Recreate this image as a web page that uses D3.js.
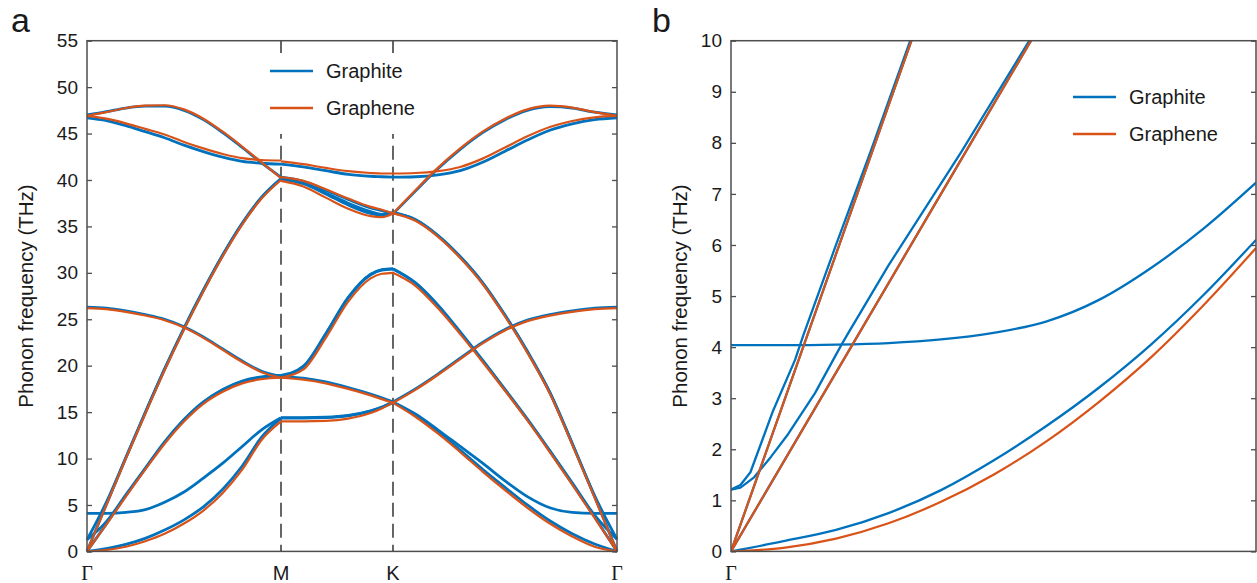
<!DOCTYPE html>
<html><head><meta charset="utf-8">
<script src="https://cdn.jsdelivr.net/npm/d3@7"></script>
<style>body{margin:0;background:#fff}svg{display:block}</style>
</head><body>
<svg id="c" width="1257" height="583"></svg>
<script>
// ---------- Panel a: k-path (Γ-M | M-K | K-Γ), relative path length ----------
const kTickLabels = ["Γ","M","K","Γ"];
const kTickPos = [0, 0.5774, 0.9107, 1.5774];
const kGrid = [0,0.0577,0.1155,0.1732,0.2309,0.2887,0.3464,0.4041,0.4619,0.5196,0.5774,
               0.5774,0.6441,0.7107,0.7774,0.8441,0.8774,0.9107,
               0.9107,0.9774,1.0441,1.1107,1.1774,1.2441,1.3107,1.3774,1.4441,1.5107,1.5774];
const segments = [[0,10],[11,17],[18,28]];
const yTicksA = [0,5,10,15,20,25,30,35,40,45,50,55];

// Graphene (6 branches)
const grapheneZA = [0,0.15,0.5,1.1,1.9,3.0,4.4,6.3,8.8,12.0,14.0, 14.0,14.0,14.05,14.3,14.9,15.4,16.0, 16.0,14.5,12.7,10.7,8.6,6.6,4.7,3.0,1.6,0.5,0];
const grapheneTA = [0,2.9,5.9,8.8,11.6,14.0,15.9,17.2,18.1,18.55,18.7, 18.7,19.6,23.0,26.9,29.4,29.9,30.0, 30.0,28.6,26.2,23.4,20.4,17.3,14.1,10.7,7.2,3.6,0];
const grapheneZO = [26.2,26.1,25.8,25.4,24.9,24.1,23.0,21.7,20.4,19.3,18.7, 18.7,18.5,18.1,17.5,16.8,16.4,16.0, 16.0,17.4,19.0,20.7,22.4,23.8,24.8,25.4,25.8,26.1,26.2];
const grapheneLA = [0,5.0,10.0,14.8,19.5,23.9,28.0,31.8,35.2,38.0,40.0, 39.9,39.3,38.1,36.9,36.1,36.0,36.4, 36.4,35.6,33.9,31.6,28.8,25.3,21.4,17.0,11.5,5.8,0];
const grapheneLO = [46.9,47.3,47.75,48.0,48.05,47.6,46.6,45.2,43.6,41.9,40.2, 40.3,39.9,39.0,38.0,37.1,36.8,36.4, 36.4,38.9,41.3,43.4,45.2,46.6,47.6,48.0,47.8,47.3,46.9];
const grapheneTO = [46.9,46.6,46.1,45.5,44.9,44.1,43.4,42.8,42.35,42.15,42.1, 42.0,41.7,41.3,40.95,40.75,40.7,40.7, 40.7,40.75,40.95,41.4,42.3,43.5,44.7,45.7,46.35,46.75,46.9];

// Graphite (sorted-looking branches)
const graphiteZA  = [0,0.3,0.75,1.4,2.3,3.4,4.8,6.7,9.2,12.3,14.35, 14.35,14.35,14.4,14.6,15.1,15.5,16.05, 16.05,14.7,12.9,10.9,8.85,6.9,5.0,3.3,1.9,0.8,0];
const graphiteZO2 = [4.1,4.1,4.2,4.5,5.3,6.4,7.9,9.5,11.3,13.1,14.4, 14.4,14.4,14.45,14.65,15.15,15.55,16.1, 16.1,14.8,13.1,11.3,9.5,7.6,5.9,4.7,4.2,4.1,4.1];
const graphiteTA  = [0,2.95,6.0,8.9,11.75,14.15,16.05,17.4,18.3,18.75,18.9, 18.9,19.9,23.4,27.3,29.8,30.3,30.4, 30.4,28.9,26.5,23.6,20.55,17.4,14.2,10.8,7.3,3.7,0];
const graphiteTA2 = [1.25,3.2,6.1,8.95,11.8,14.2,16.1,17.45,18.35,18.8,18.95, 18.95,19.95,23.45,27.35,29.85,30.35,30.45, 30.45,28.95,26.55,23.65,20.6,17.45,14.25,10.85,7.4,3.9,1.3];
const graphiteZO  = [26.3,26.2,25.9,25.5,25.0,24.2,23.1,21.8,20.5,19.4,18.85, 18.85,18.65,18.25,17.65,16.95,16.55,16.1, 16.1,17.5,19.1,20.8,22.5,23.9,24.9,25.5,25.9,26.2,26.3];
const graphiteLA  = [0,5.05,10.05,14.9,19.6,24.0,28.1,31.9,35.3,38.1,40.1, 40.1,39.6,38.5,37.3,36.4,36.2,36.5, 36.5,35.7,34.0,31.7,28.9,25.4,21.5,17.1,11.6,5.9,0];
const graphiteLA2 = [1.25,5.3,10.1,14.95,19.65,24.05,28.15,31.95,35.35,38.15,40.15, 40.1,39.65,38.6,37.5,36.6,36.3,36.45, 36.45,35.75,34.05,31.75,28.95,25.45,21.55,17.15,11.65,6.0,1.3];
const graphiteLO  = [47.0,47.35,47.75,47.95,47.95,47.5,46.5,45.1,43.5,41.85,40.3, 40.3,39.85,38.9,37.9,37.0,36.7,36.35, 36.35,38.8,41.2,43.3,45.1,46.5,47.5,47.9,47.75,47.3,47.0];
const graphiteTO  = [46.7,46.4,45.85,45.2,44.55,43.75,43.05,42.45,42.0,41.8,41.7, 41.7,41.4,41.0,40.6,40.4,40.35,40.3, 40.3,40.35,40.55,41.0,41.9,43.1,44.3,45.35,46.05,46.5,46.7];

// ---------- Panel b: zoom near Γ (fraction of shown k range) ----------
const yTicksB = [0,1,2,3,4,5,6,7,8,9,10];
const bU = [0,0.1,0.2,0.3,0.4,0.5,0.6,0.7,0.8,0.9,1];
const bGrapheneZA = [0,0.07,0.25,0.55,0.97,1.5,2.15,2.92,3.8,4.82,5.94];
const bGraphiteZA = [0,0.2,0.42,0.75,1.2,1.78,2.45,3.2,4.05,5.02,6.1];
const bGraphiteZO2 = [4.04,4.04,4.05,4.08,4.15,4.28,4.5,4.92,5.55,6.32,7.22];
const bUlin = [0,0.2,0.4,0.6];
const bGrapheneLA = [0,5.82,11.64,17.46];
const bGrapheneTA = [0,3.5,7.0,10.5];
const bGraphiteLA = [0,5.82,11.64,17.46];
const bGraphiteTA = [0,3.5,7.0,10.5];
const bULA2 = [0,0.018,0.037,0.08,0.122,0.138,0.2,0.266,0.35];
const bGraphiteLA2 = [1.21,1.3,1.55,2.75,3.75,4.24,6.0,7.83,10.25];
const bUTA2 = [0,0.018,0.044,0.076,0.109,0.16,0.21,0.223,0.3,0.439,0.58];
const bGraphiteTA2 = [1.21,1.25,1.45,1.85,2.3,3.1,4.04,4.27,5.6,7.83,10.2];

const legendNames = ["Graphite","Graphene"];
const colors = {Graphite:"#0072BD", Graphene:"#D95319"};

// ---------- drawing ----------
const svg = d3.select("#c");
const FONT = "'Liberation Sans', Arial, sans-serif";
const axisColor = "#4d4d4d";

const xA = d3.scaleLinear().domain([0,1.5774]).range([87,617]);
const yA = d3.scaleLinear().domain([0,55]).range([551.4,40.7]);
const xB = d3.scaleLinear().domain([0,1]).range([731,1256]);
const yB = d3.scaleLinear().domain([0,10]).range([551.4,40.7]);

function frame(x, y, ticks) {
  const g = svg.append("g");
  const [x0,x1] = x.range(), [y0,y1] = y.range();
  const la = g.append("g").attr("transform",`translate(${x0},0)`)
    .call(d3.axisLeft(y).tickValues(ticks).tickSize(-5).tickPadding(9));
  const ra = g.append("g").attr("transform",`translate(${x1},0)`)
    .call(d3.axisRight(y).tickValues(ticks).tickSize(-5).tickFormat(""));
  [la,ra].forEach(a=>{
    a.select(".domain").remove();
    a.selectAll("line").attr("stroke",axisColor).attr("stroke-width",1.3);
    a.selectAll("text").attr("font-family",FONT).attr("font-size",19).attr("fill","#1a1a1a");
  });
  g.append("rect").attr("x",x0).attr("y",y1).attr("width",x1-x0).attr("height",y0-y1)
    .attr("fill","none").attr("stroke",axisColor).attr("stroke-width",1.5);
}

function lineA(vals, color, w) {
  const ln = d3.line().x(d=>xA(d[0])).y(d=>yA(d[1])).curve(d3.curveMonotoneX);
  segments.forEach(([a,b])=>{
    const pts = [];
    for (let i=a;i<=b;i++) pts.push([kGrid[i], vals[i]]);
    svg.append("path").attr("d",ln(pts)).attr("fill","none")
      .attr("stroke",color).attr("stroke-width",w).attr("stroke-linejoin","round");
  });
}

// Panel a
[kTickPos[1], kTickPos[2]].forEach(k=>{
  svg.append("line").attr("x1",xA(k)).attr("x2",xA(k)).attr("y1",yA(55)).attr("y2",yA(0))
    .attr("stroke","#000").attr("stroke-width",1.2).attr("stroke-dasharray","14,7");
});
svg.append("rect").attr("x",258).attr("y",53).attr("width",175).attr("height",81).attr("fill","#fff");

[graphiteZA,graphiteZO2,graphiteTA,graphiteTA2,graphiteZO,graphiteLA,graphiteLA2,graphiteLO,graphiteTO]
  .forEach(v=>lineA(v, colors.Graphite, 2.8));
[grapheneZA,grapheneTA,grapheneZO,grapheneLA,grapheneLO,grapheneTO]
  .forEach(v=>lineA(v, colors.Graphene, 2.2));

frame(xA, yA, yTicksA);

legendNames.forEach((n,i)=>{
  const yy = 71 + i*37;
  svg.append("line").attr("x1",270).attr("x2",313).attr("y1",yy).attr("y2",yy)
    .attr("stroke",colors[n]).attr("stroke-width",2.5);
  svg.append("text").attr("x",326).attr("y",yy+7).text(n)
    .attr("font-family",FONT).attr("font-size",20).attr("fill","#1a1a1a");
});

kTickLabels.forEach((t,i)=>{
  svg.append("text").attr("x",xA(kTickPos[i])).attr("y",580).attr("text-anchor","middle").text(t)
    .attr("font-family", t==="Γ" ? "'Liberation Serif', 'Times New Roman', serif" : FONT)
    .attr("font-size",20).attr("fill","#1a1a1a");
});

// Panel b
svg.append("clipPath").attr("id","cb").append("rect")
  .attr("x",731).attr("y",40.7).attr("width",525).attr("height",510.7);
const gb = svg.append("g").attr("clip-path","url(#cb)");
function lineB(us, vals, color, w, curve) {
  const ln = d3.line().x(d=>xB(d[0])).y(d=>yB(d[1])).curve(curve);
  gb.append("path").attr("d",ln(us.map((u,i)=>[u,vals[i]]))).attr("fill","none")
    .attr("stroke",color).attr("stroke-width",w).attr("stroke-linejoin","round");
}
lineB(bU, bGraphiteZA, colors.Graphite, 2.3, d3.curveMonotoneX);
lineB(bU, bGraphiteZO2, colors.Graphite, 2.3, d3.curveMonotoneX);
lineB(bUlin, bGraphiteLA, colors.Graphite, 2.3, d3.curveLinear);
lineB(bUlin, bGraphiteTA, colors.Graphite, 2.3, d3.curveLinear);
lineB(bULA2, bGraphiteLA2, colors.Graphite, 2.3, d3.curveLinear);
lineB(bUTA2, bGraphiteTA2, colors.Graphite, 2.3, d3.curveLinear);
lineB(bU, bGrapheneZA, colors.Graphene, 2.2, d3.curveMonotoneX);
lineB(bUlin, bGrapheneLA, colors.Graphene, 2.2, d3.curveLinear);
lineB(bUlin, bGrapheneTA, colors.Graphene, 2.2, d3.curveLinear);

frame(xB, yB, yTicksB);

legendNames.forEach((n,i)=>{
  const yy = 97 + i*37;
  svg.append("line").attr("x1",1073).attr("x2",1116).attr("y1",yy).attr("y2",yy)
    .attr("stroke",colors[n]).attr("stroke-width",2.5);
  svg.append("text").attr("x",1129).attr("y",yy+7).text(n)
    .attr("font-family",FONT).attr("font-size",20).attr("fill","#1a1a1a");
});
svg.append("text").attr("x",xB(0)).attr("y",580).attr("text-anchor","middle").text("Γ")
  .attr("font-family","'Liberation Serif', 'Times New Roman', serif").attr("font-size",20).attr("fill","#1a1a1a");

[33,687].forEach(x=>{
  svg.append("text").attr("transform",`translate(${x},296) rotate(-90)`).attr("text-anchor","middle")
    .text("Phonon frequency (THz)").attr("font-family",FONT).attr("font-size",20.5).attr("fill","#1a1a1a");
});
svg.append("text").attr("x",11).attr("y",32).text("a").attr("font-family",FONT).attr("font-size",34).attr("fill","#1a1a1a");
svg.append("text").attr("x",652).attr("y",32).text("b").attr("font-family",FONT).attr("font-size",34).attr("fill","#1a1a1a");
</script>
</body></html>
